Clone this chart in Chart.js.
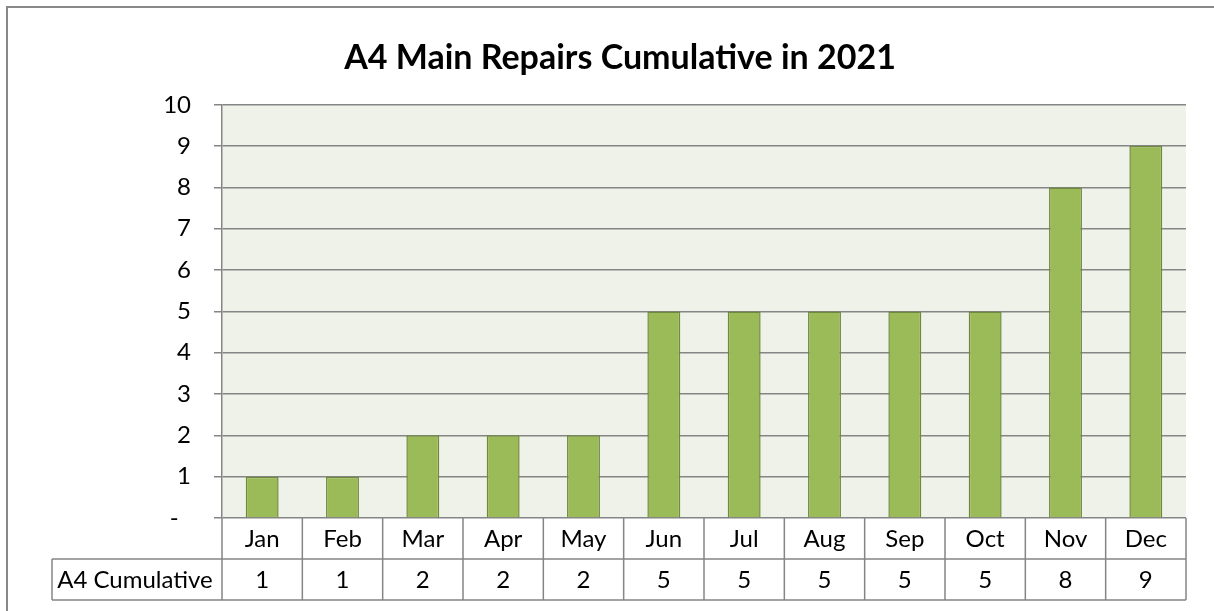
<!DOCTYPE html>
<html lang="en">
<head>
  <meta charset="UTF-8" />
  <title>A4 Main Repairs Cumulative in 2021</title>
  <script src="https://cdn.jsdelivr.net/npm/chart.js"></script>
  <style>
    html, body { margin: 0; padding: 0; background: #fff; overflow: hidden; }
    #wrap { position: relative; width: 1214px; height: 611px; }
  </style>
</head>
<body>
  <div id="wrap"><canvas id="myChart"></canvas></div>
  <script>
    // chart data
    const months = ["Jan", "Feb", "Mar", "Apr", "May", "Jun", "Jul", "Aug", "Sep", "Oct", "Nov", "Dec"];
    const cumulative = [1, 1, 2, 2, 2, 5, 5, 5, 5, 5, 8, 9];
    const seriesName = "A4 Cumulative";
    const titleText = "A4 Main Repairs Cumulative in 2021";
    const yMin = 0;
    const yMax = 10;
    const yStep = 1;

    const FONT = "Lato, 'Open Sans', sans-serif";
    const lineGray = "#858585";

    // plot background + outer frame
    const backdrop = {
      id: "backdrop",
      beforeDraw(chart) {
        const { ctx, chartArea: a } = chart;
        ctx.save();
        ctx.fillStyle = "#eff2e9";
        ctx.fillRect(a.left, a.top, a.right - a.left, a.bottom - a.top);
        ctx.strokeStyle = "#888";
        ctx.lineWidth = 2;
        ctx.beginPath();
        ctx.moveTo(7, chart.height + 5);
        ctx.lineTo(7, 7);
        ctx.lineTo(chart.width + 5, 7);
        ctx.stroke();
        ctx.restore();
      }
    };

    // data table under the x axis
    const dataTable = {
      id: "dataTable",
      afterDraw(chart) {
        const { ctx, chartArea: a, scales } = chart;
        const x = scales.x;
        const rowH = 41;
        const top = a.bottom;
        const mid = top + rowH;
        const bottom = mid + rowH;
        const labelLeft = 52;
        const half = (a.right - a.left) / months.length / 2;

        ctx.save();
        ctx.strokeStyle = lineGray;
        ctx.lineWidth = 1.5;
        ctx.beginPath();
        // horizontal lines
        ctx.moveTo(labelLeft, mid); ctx.lineTo(a.right, mid);
        ctx.moveTo(labelLeft, bottom); ctx.lineTo(a.right, bottom);
        // vertical lines
        ctx.moveTo(labelLeft, mid); ctx.lineTo(labelLeft, bottom);
        ctx.moveTo(a.left, top); ctx.lineTo(a.left, bottom);
        months.forEach((m, i) => {
          const edge = x.getPixelForValue(i) + half;
          ctx.moveTo(edge, top); ctx.lineTo(edge, bottom);
        });
        ctx.stroke();

        ctx.fillStyle = "#000";
        ctx.font = "24px " + FONT;
        ctx.textBaseline = "middle";
        ctx.textAlign = "center";
        ctx.fillText(seriesName, (labelLeft + a.left) / 2 - 2, mid + rowH / 2 + 1);
        cumulative.forEach((v, i) => {
          ctx.fillText(String(v), x.getPixelForValue(i), mid + rowH / 2 + 1);
        });
        ctx.restore();
      }
    };

    const ctx = document.getElementById("myChart").getContext("2d");

    new Chart(ctx, {
      type: "bar",
      data: {
        labels: months,
        datasets: [{
          label: seriesName,
          data: cumulative,
          backgroundColor: "#9bbb59",
          borderColor: "#71893f",
          borderWidth: 1.5,
          borderSkipped: "bottom",
          categoryPercentage: 1,
          barPercentage: 0.41
        }]
      },
      options: {
        responsive: true,
        maintainAspectRatio: false,
        animation: false,
        layout: { padding: { left: 54, right: 28, top: 0, bottom: 0 } },
        plugins: {
          legend: { display: false },
          tooltip: { enabled: false },
          title: {
            display: true,
            text: titleText,
            color: "#000",
            font: { family: FONT, size: 34, weight: "bold", lineHeight: 1.2 },
            padding: { top: 38, bottom: 26 }
          }
        },
        scales: {
          x: {
            grid: { display: false, drawTicks: false },
            border: { display: false },
            ticks: {
              color: "#000",
              font: { family: FONT, size: 24 },
              padding: 7,
              maxRotation: 0
            },
            afterFit(scale) { scale.height = 93; }
          },
          y: {
            min: yMin,
            max: yMax,
            grid: { color: lineGray, lineWidth: 1.5, tickLength: 8 },
            border: { color: lineGray, width: 1.5 },
            ticks: {
              stepSize: yStep,
              color: "#000",
              padding: 23,
              font: { family: FONT, size: 24 },
              callback: (v) => (v === 0 ? "-  " : v)
            },
            afterFit(scale) { scale.width = 168; }
          }
        }
      },
      plugins: [backdrop, dataTable]
    });
  </script>
</body>
</html>
